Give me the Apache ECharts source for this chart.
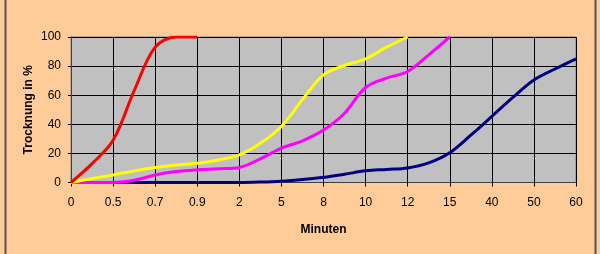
<!DOCTYPE html>
<html>
<head>
<meta charset="utf-8">
<script src="https://cdn.jsdelivr.net/npm/echarts@6/dist/echarts.min.js"></script>
<style>
html,body{margin:0;padding:0;background:#FFCC99;}
#c{width:600px;height:254px;}
</style>
</head>
<body>
<div id="c"></div>
<script>
// Visible tick labels (Minuten)
var tickLabels = ['0','0.5','0.7','0.9','2','5','8','10','12','15','40','50','60'];
// Hidden intermediate categories between the labelled ones
var midLabels = ['0.25','0.6','0.8','1','3.5','6.5','9','11','13.5','27.5','45','55'];
// Series values (Trocknung in %), one value per category (labelled + intermediate)
var red    = [0, 13, 29, 63, 93, 100, 100, null, null, null, null, null, null, null, null, null, null, null, null, null, null, null, null, null, null];
var yellow = [0, 2.7, 5.2, 8, 10.3, 12, 13.3, 15.5, 19, 27, 38.5, 57, 74, 80.4, 85, 93, 100, null, null, null, null, null, null, null, null];
var pink   = [0, 0, 0, 1.5, 5.2, 7.5, 8.7, 9.4, 10.3, 16.3, 23.6, 28.6, 36, 47.6, 65.3, 71.7, 76.3, 87.7, 100, null, null, null, null, null, null];
var navy   = [0, 0, 0, 0, 0, 0, 0, 0, 0, 0.3, 0.9, 2, 3.6, 5.7, 8, 9, 10, 13.5, 20.5, 32.5, 45.4, 58.5, 70.5, 78, 85];

var categories = [];
for (var i = 0; i < tickLabels.length; i++) {
  categories.push(tickLabels[i]);
  if (i < midLabels.length) categories.push(midLabels[i]);
}

var FONT = 'Arial, "Liberation Sans", sans-serif';
function mk(name, data, color) {
  return {
    name: name, type: 'line', data: data, smooth: 0.35, symbol: 'none',
    connectNulls: false,
    lineStyle: {color: color, width: 3}, itemStyle: {color: color}
  };
}
var chart = echarts.init(document.getElementById('c'), null, {renderer: 'canvas'});
chart.setOption({
  animation: false,
  backgroundColor: '#FFCC99',
  textStyle: {fontFamily: FONT},
  grid: {left: 71, right: 24, top: 37, bottom: 71.5, show: true,
         backgroundColor: '#C0C0C0', borderColor: '#808080', borderWidth: 1},
  graphic: [{type: 'rect', shape: {x: 5.5, y: -10, width: 590, height: 280},
             style: {fill: 'none', stroke: '#555555', lineWidth: 2}, silent: true}],
  xAxis: {
    type: 'category', data: categories, boundaryGap: false,
    name: 'Minuten', nameLocation: 'middle', nameGap: 41, nameMoveOverlap: false,
    nameTextStyle: {fontSize: 12, fontWeight: 'bold', color: '#000', fontFamily: FONT},
    axisLine: {show: true, lineStyle: {color: '#404040', width: 1}},
    axisTick: {show: true, interval: 1, length: 4, lineStyle: {color: '#000'}},
    axisLabel: {interval: 1, fontSize: 12, color: '#000', margin: 14, fontFamily: FONT},
    splitLine: {show: true, interval: 1, lineStyle: {color: '#000', width: 1}}
  },
  yAxis: {
    type: 'value', min: 0, max: 100, interval: 20,
    name: 'Trocknung in %', nameLocation: 'middle', nameGap: 36, nameMoveOverlap: false,
    nameTextStyle: {fontSize: 12, fontWeight: 'bold', color: '#000', fontFamily: FONT},
    axisLine: {show: true, lineStyle: {color: '#404040', width: 1}},
    axisTick: {show: true, length: 3, lineStyle: {color: '#000'}},
    axisLabel: {fontSize: 12, color: '#000', margin: 10, fontFamily: FONT},
    splitLine: {show: true, lineStyle: {color: '#000', width: 1}}
  },
  series: [
    mk('navy', navy, '#000080'),
    mk('pink', pink, '#FF00FF'),
    mk('yellow', yellow, '#FFFF00'),
    mk('red', red, '#FF0000')
  ]
});
</script>
</body>
</html>
